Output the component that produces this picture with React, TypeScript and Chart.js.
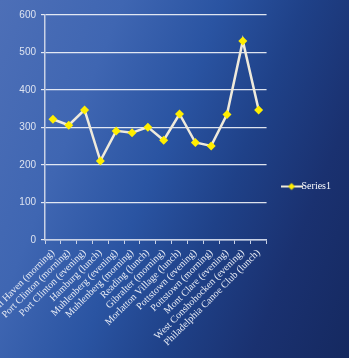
import React, { useEffect, useRef } from "react";
import { Chart, registerables } from "chart.js";

Chart.register(...registerables);

const categories = [
  "Schuylkill Haven (morning)",
  "Port Clinton (morning)",
  "Port Clinton (evening)",
  "Hamburg (lunch)",
  "Muhlenberg (evening)",
  "Muhlenberg (morning)",
  "Reading (lunch)",
  "Gibralter (morning)",
  "Morlatton Village (lunch)",
  "Pottstown (evening)",
  "Pottstown (morning)",
  "Mont Clare (evening)",
  "West Conshohocken (evening)",
  "Philadelphia Canoe Club (lunch)",
];
const series1 = [322, 306, 347, 211, 291, 286, 301, 266, 336, 260, 251, 335, 531, 347];
const seriesName = "Series1";
const yTicks = { min: 0, max: 600, step: 100 };

function makeLegendIcon(): HTMLCanvasElement {
  const c = document.createElement("canvas");
  c.width = 22;
  c.height = 10;
  const ctx = c.getContext("2d")!;
  ctx.strokeStyle = "#efeadb";
  ctx.lineWidth = 2;
  ctx.beginPath();
  ctx.moveTo(0, 5);
  ctx.lineTo(22, 5);
  ctx.stroke();
  ctx.fillStyle = "#ffee00";
  ctx.beginPath();
  ctx.moveTo(11, 1.5);
  ctx.lineTo(14.5, 5);
  ctx.lineTo(11, 8.5);
  ctx.lineTo(7.5, 5);
  ctx.closePath();
  ctx.fill();
  return c;
}

export default function App() {
  const ref = useRef<HTMLCanvasElement | null>(null);
  useEffect(() => {
    document.body.style.margin = "0";
    const icon = makeLegendIcon();
    const chart = new Chart(ref.current!, {
      type: "line",
      data: {
        labels: categories,
        datasets: [
          {
            label: seriesName,
            data: series1,
            borderColor: "#efeadb",
            borderWidth: 2.5,
            pointStyle: "rectRot",
            pointRadius: 4.5,
            pointBackgroundColor: "#ffee00",
            pointBorderColor: "#ffee00",
            pointBorderWidth: 0,
            tension: 0,
          },
        ],
      },
      options: {
        animation: false,
        responsive: false,
        maintainAspectRatio: false,
        layout: { padding: { top: 15, left: 0, right: 8, bottom: 0 } },
        plugins: {
          tooltip: { enabled: false },
          legend: {
            position: "right",
            labels: {
              usePointStyle: true,
              color: "#ffffff",
              font: { family: "'Liberation Serif', 'Times New Roman', serif", size: 10 },
              padding: 20,
              generateLabels: (ch: any) =>
                ch.data.datasets.map((d: any, i: number) => ({
                  text: d.label,
                  pointStyle: icon,
                  fillStyle: "#ffee00",
                  strokeStyle: "#efeadb",
                  fontColor: "#ffffff",
                  datasetIndex: i,
                  hidden: false,
                  lineWidth: 0,
                })),
            },
          },
        },
        scales: {
          x: {
            offset: true,
            grid: {
              offset: true,
              drawOnChartArea: false,
              drawTicks: true,
              tickLength: 4,
              color: "#c9d2e6",
            },
            border: { color: "#c9d2e6", width: 1.5 },
            ticks: {
              autoSkip: false,
              maxRotation: 45,
              minRotation: 45,
              color: "#e8ecf6",
              padding: 3,
              font: { family: "'Liberation Serif', 'Times New Roman', serif", size: 10 },
            },
            afterFit: (s: any) => {
              s.height = 118;
              s.paddingLeft = 0;
              s.paddingRight = 0;
            },
          },
          y: {
            min: yTicks.min,
            max: yTicks.max,
            grid: {
              color: "rgba(255,255,255,0.85)",
              lineWidth: 1.2,
              drawTicks: true,
              tickLength: 4,
            },
            border: { color: "#c9d2e6", width: 1.5 },
            ticks: {
              stepSize: yTicks.step,
              color: "#dde3f0",
              padding: 5,
              font: { family: "'Liberation Sans', Arial, sans-serif", size: 10 },
            },
            afterFit: (s: any) => {
              s.width = 45;
            },
          },
        },
      },
    });
    return () => chart.destroy();
  }, []);
  return (
    <div
      style={{
        position: "absolute",
        left: 0,
        top: 0,
        width: 349,
        height: 358,
        background:
          "linear-gradient(112deg, #4d6fb7 0%, #3f66b2 25%, #2a54a2 45%, #1f4188 62%, #1a3170 80%, #152960 100%)",
      }}
    >
      <canvas ref={ref} width={349} height={358} style={{ display: "block" }} />
    </div>
  );
}
